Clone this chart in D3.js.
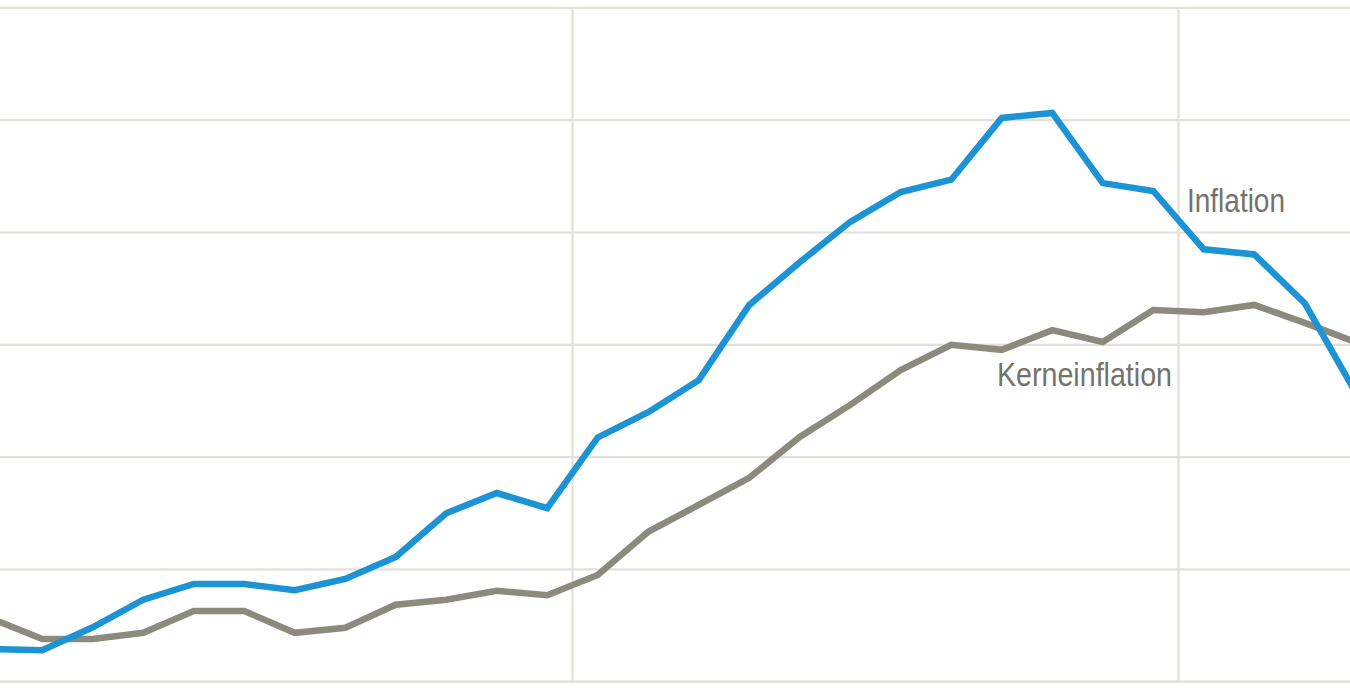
<!DOCTYPE html>
<html>
<head>
<meta charset="utf-8">
<script src="https://cdn.jsdelivr.net/npm/d3@7"></script>
<style>
  html, body { margin: 0; padding: 0; background: #ffffff; overflow: hidden; }
  svg { display: block; }
</style>
</head>
<body>
<svg id="chart" width="1350" height="692"></svg>
<script>
// ---- data ----
const months = [
  "2021-01","2021-02","2021-03","2021-04","2021-05","2021-06",
  "2021-07","2021-08","2021-09","2021-10","2021-11","2021-12",
  "2022-01","2022-02","2022-03","2022-04","2022-05","2022-06",
  "2022-07","2022-08","2022-09","2022-10","2022-11","2022-12",
  "2023-01","2023-02","2023-03","2023-04"
];
const inflation = [
  0.58, 0.56, 0.97, 1.46, 1.74, 1.74, 1.63, 1.83, 2.22, 3.00, 3.36, 3.09,
  4.35, 4.80, 5.37, 6.71, 7.47, 8.19, 8.72, 8.94, 10.04, 10.13, 8.88, 8.74,
  7.70, 7.61, 6.74, 5.16
];
const kerninflation = [
  1.12, 0.76, 0.76, 0.87, 1.26, 1.26, 0.87, 0.96, 1.37, 1.46, 1.62, 1.54,
  1.90, 2.67, 3.15, 3.63, 4.36, 4.93, 5.55, 6.00, 5.91, 6.26, 6.05, 6.62,
  6.58, 6.71, 6.39, 6.05
];
const yTicks = [0, 2, 4, 6, 8, 10, 12];
const yearStarts = ["2022-01", "2023-01"];
const seriesLabels = ["Inflation", "Kerneinflation"];

// ---- layout ----
const svg = d3.select("#chart");
const W = 1350, H = 692;

const x = d3.scaleBand()
  .domain(months)
  .range([-33.5, -33.5 + months.length * 50.5])
  .padding(0);
const xc = m => x(m) + x.bandwidth() / 2;

const y = d3.scaleLinear()
  .domain([0, 12])
  .range([681.7, 7.9]);

const gridColor = "#e2e0d8";

// horizontal gridlines
svg.append("g")
  .selectAll("line")
  .data(yTicks)
  .join("line")
  .attr("x1", 0).attr("x2", W)
  .attr("y1", d => y(d)).attr("y2", d => y(d))
  .attr("stroke", gridColor)
  .attr("stroke-width", 2.2);

// vertical year separators
svg.append("g")
  .selectAll("line")
  .data(yearStarts)
  .join("line")
  .attr("x1", d => x(d)).attr("x2", d => x(d))
  .attr("y1", y(12)).attr("y2", y(0))
  .attr("stroke", gridColor)
  .attr("stroke-width", 2.2);

const line = d3.line()
  .x((d, i) => xc(months[i]))
  .y(d => y(d));

svg.append("path")
  .datum(kerninflation)
  .attr("d", line)
  .attr("fill", "none")
  .attr("stroke", "#8b8a7c")
  .attr("stroke-width", 6.5)
  .attr("stroke-linejoin", "miter");

svg.append("path")
  .datum(inflation)
  .attr("d", line)
  .attr("fill", "none")
  .attr("stroke", "#1b93d5")
  .attr("stroke-width", 6.5)
  .attr("stroke-linejoin", "miter");

// labels
const labelColor = "#74736a";
svg.append("text")
  .attr("x", 1187).attr("y", 212)
  .attr("font-family", "'Liberation Sans', Arial, sans-serif")
  .attr("font-size", 34)
  .attr("fill", labelColor)
  .attr("textLength", 98)
  .attr("lengthAdjust", "spacingAndGlyphs")
  .text(seriesLabels[0]);

svg.append("text")
  .attr("x", 997).attr("y", 386)
  .attr("font-family", "'Liberation Sans', Arial, sans-serif")
  .attr("font-size", 34)
  .attr("fill", labelColor)
  .attr("textLength", 175)
  .attr("lengthAdjust", "spacingAndGlyphs")
  .text(seriesLabels[1]);
</script>
</body>
</html>
